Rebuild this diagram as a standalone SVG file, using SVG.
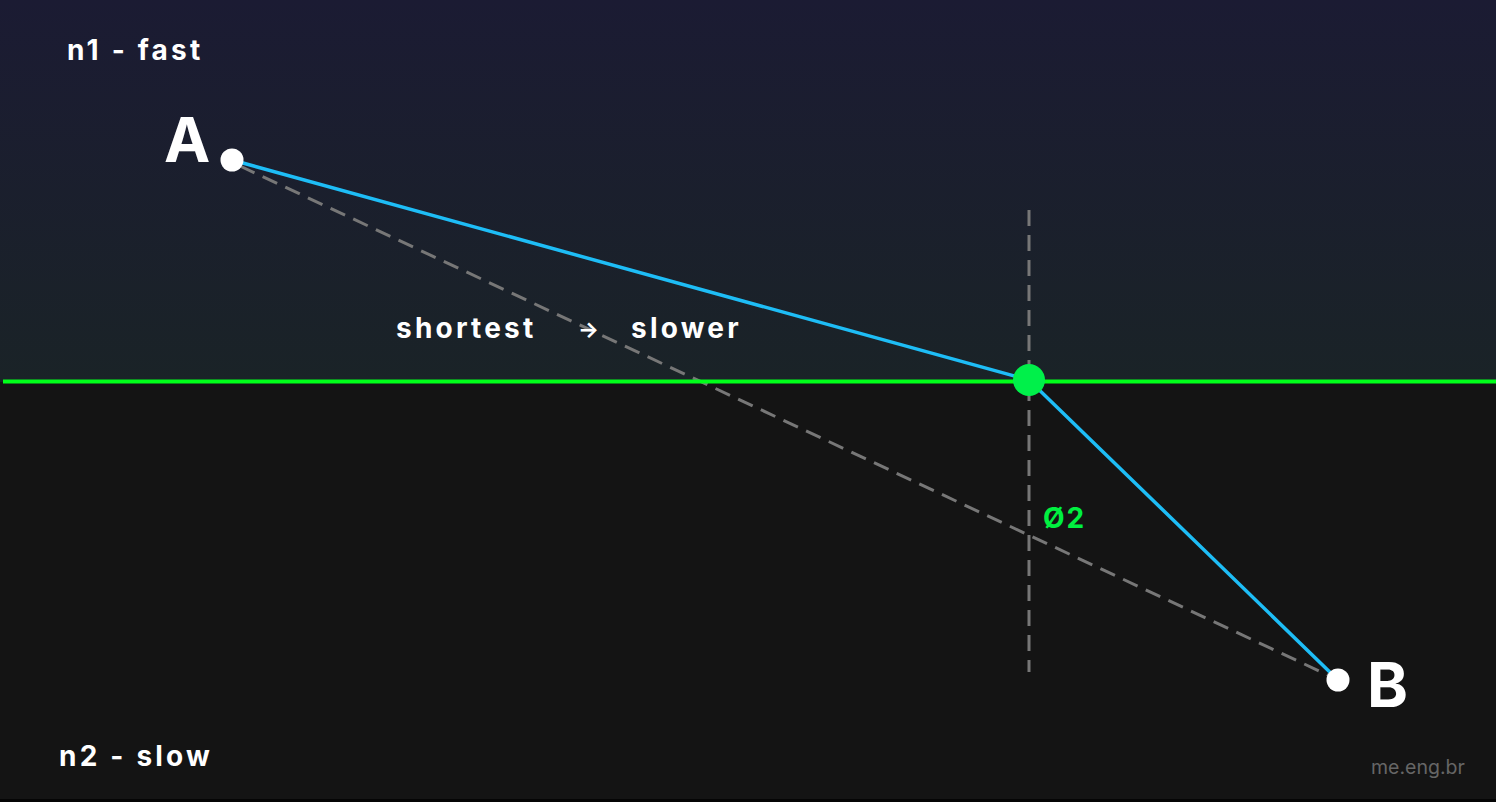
<svg xmlns="http://www.w3.org/2000/svg" width="1496" height="802" viewBox="0 0 1496 802">
<defs>
<linearGradient id="sky" x1="0" y1="0" x2="0" y2="1">
<stop offset="0" stop-color="#1b1b33"/>
<stop offset="1" stop-color="#1a2327"/>
</linearGradient>
<style>
.lbl{font-family:Inter,"Liberation Sans",sans-serif;font-weight:700;fill:#ffffff;letter-spacing:3.2px;font-size:28px}
.big{font-family:Inter,"Liberation Sans",sans-serif;font-weight:700;fill:#ffffff;font-size:62px}
.dash{stroke:#777777;stroke-width:3;stroke-dasharray:16 9;fill:none}
.ray{stroke:#1ebdf6;stroke-width:3.5;fill:none}
</style>
</defs>
<rect x="0" y="0" width="1496" height="382" fill="url(#sky)"/>
<rect x="0" y="382" width="1496" height="420" fill="#141414"/>
<rect x="0" y="799" width="1496" height="3" fill="#050505"/>
<g id="connectors">
<line class="dash" x1="1029" y1="210" x2="1029" y2="672"/>
<line class="dash" x1="240" y1="166" x2="1332" y2="677"/>
<line x1="3" y1="381.5" x2="1496" y2="381.5" stroke="#00ff1a" stroke-width="4"/>
<polyline class="ray" points="232,160 1029,380 1338,680"/>
</g>
<g id="nodeA">
<circle cx="232" cy="160" r="11.5" fill="#ffffff"/>
<text class="big" x="164" y="162">A</text>
</g>
<g id="nodeB">
<circle cx="1338" cy="680" r="11.5" fill="#ffffff"/>
<text class="big" x="1367" y="707">B</text>
</g>
<g id="nodeP">
<circle cx="1029" cy="380" r="16" fill="#00f04a"/>
</g>
<g id="labels">
<text class="lbl" x="67" y="60">n1 - fast</text>
<text class="lbl" x="59" y="766">n2 - slow</text>
<text class="lbl" x="396" y="338">shortest</text>
<text class="lbl" x="578" y="337" style="font-size:22px">→</text>
<text class="lbl" x="631" y="338">slower</text>
<text class="lbl" x="1043" y="528" style="fill:#00f040;letter-spacing:2px">Ø2</text>
<text x="1371" y="774" font-size="19.5" font-family="Inter,'Liberation Sans',sans-serif" fill="#666666">me.eng.br</text>
</g>
</svg>
